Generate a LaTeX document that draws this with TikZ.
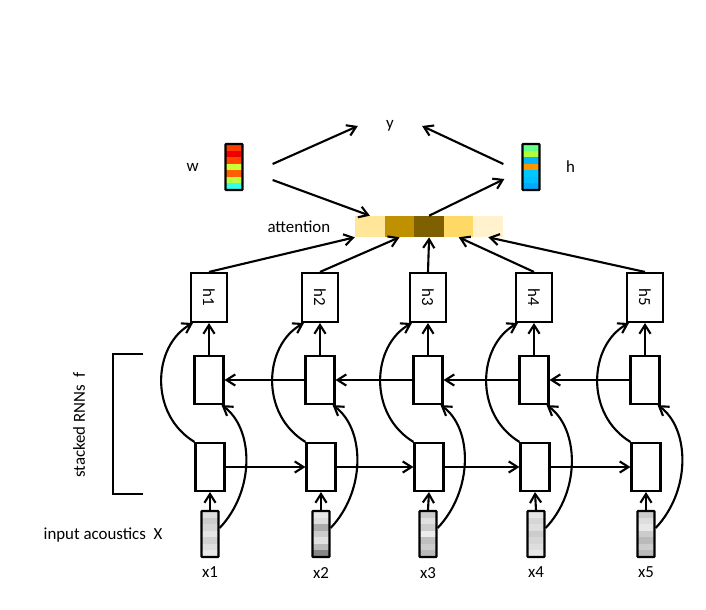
\documentclass[tikz,border=0pt]{standalone}
\usepackage{fontspec}
\setmainfont{Carlito}
\usepackage{graphicx}
\usetikzlibrary{arrows.meta, positioning, calc}
\definecolor{attA}{HTML}{FFE699}
\definecolor{attB}{HTML}{BF9000}
\definecolor{attC}{HTML}{7F6000}
\definecolor{attD}{HTML}{FFD966}
\definecolor{attE}{HTML}{FFF2CC}
\definecolor{wcA}{HTML}{FF3C00}
\definecolor{wcB}{HTML}{EE0000}
\definecolor{wcC}{HTML}{FF4500}
\definecolor{wcD}{HTML}{CCFF33}
\definecolor{wcE}{HTML}{FF6000}
\definecolor{wcF}{HTML}{BBFF44}
\definecolor{wcG}{HTML}{33FFEE}
\definecolor{hcA}{HTML}{66FF88}
\definecolor{hcB}{HTML}{B4FF3C}
\definecolor{hcC}{HTML}{00B4FF}
\definecolor{hcD}{HTML}{FF9600}
\definecolor{hcE}{HTML}{00C8FF}
\definecolor{hcF}{HTML}{00BEFF}
\definecolor{hcG}{HTML}{00AAFF}
\tikzset{
  cell/.style={rectangle, draw, line width=1.5pt, minimum width=0.725cm,
    minimum height=1.2cm, inner sep=0pt},
  hbox/.style={cell, minimum width=0.9cm, minimum height=1.225cm},
  vec/.style={rectangle, draw, line width=1.6pt, rounded corners=0.5pt,
    minimum width=0.425cm, minimum height=1.15cm, inner sep=0pt},
  att/.style={rectangle, inner sep=0pt, minimum width=0.74cm, minimum height=0.525cm},
  arrow/.style={-{Straight Barb[length=2.2mm,width=2.8mm]}, line width=1.5pt}
}
% striped vector: name, x centre, y top, list of fills
\newcommand{\stripevec}[4]{%
  \foreach \c [count=\k from 0] in {#4}
    \fill[\c] ({#2-8.5},{#3+\k*46/7}) rectangle ++(17,{46/7});
  \node[vec] (#1) at (#2,{#3+23}) {};
}

\begin{document}
\begin{tikzpicture}[x=0.025cm, y=-0.025cm, font=\fontsize{12}{14}\selectfont]
  \useasboundingbox (0,0) rectangle (706,610);

  % output, weights and summary vector
  \node[inner xsep=0.7cm] (yv) at (390,126) {y};
  \stripevec{wv}{234}{144}{wcA,wcB,wcC,wcD,wcE,wcF,wcG}
  \stripevec{hv}{531}{144}{hcA,hcB,hcC,hcD,hcE,hcF,hcG}
  \node[left=0.52cm of wv] (wlbl) {w};
  \node[right=0.51cm of hv] (hlbl) {h};

  % attention weights
  \foreach \c [count=\k] in {attA,attB,attC,attD,attE}
    \node[att, fill=\c] (att\k) at ({340.3+\k*29.6},226.5) {};
  \node[left=0.49cm of att1] (attlbl) {attention};

  \draw[arrow] ($(wv.east)+(29,-3)$) -- (yv.west);
  \draw[arrow] ($(wv.east)+(29,13)$) -- (att1.north);
  \draw[arrow] (att3.north) -- ($(hv.west)+(-17,12)$);
  \draw[arrow] ($(hv.west)+(-18,-3)$) -- (yv.east);

  % input acoustics
  \stripevec{x1}{210}{511}{black!12,black!20,black!16,black!10,black!18,black!13,black!9}
  \stripevec{x2}{321}{511}{black!9,black!13,black!33,black!20,black!12,black!27,black!47}
  \stripevec{x3}{428}{511}{black!20,black!12,black!20,black!7,black!25,black!20,black!27}
  \stripevec{x4}{536}{511}{black!10,black!16,black!13,black!20,black!16,black!13,black!9}
  \stripevec{x5}{646}{511}{black!20,black!13,black!9,black!20,black!27,black!20,black!27}

  % stacked RNN columns
  \foreach \i/\x in {1/209,2/320,3/428,4/534,5/645} {
    \node[hbox] (h\i) at (\x,297.5) {\rotatebox{-90}{h\i}};
    \node[cell] (bwd\i) at (\x,380) {};
    \node[cell] (fwd\i) at (\x+1,467) {};
    \node[below=1mm of x\i] (xl\i) {x\i};
    \draw[arrow] (x\i.north) -- (fwd\i.south);
    \draw[arrow] (bwd\i.north) -- (h\i.south);
    \draw[arrow] ($(x\i.east)+(0,-6)$) .. controls +(36,-38) and +(32,23)
      .. ($(bwd\i.south east)+(-3,0)$);
    \draw[arrow] (fwd\i.north west) .. controls +(-46,-28) and +(-40,22)
      .. ($(h\i.south west)+(3,0)$);
  }
  \foreach \i [evaluate=\i as \j using int(\i+1)] in {1,...,4} {
    \draw[arrow] (fwd\i.east) -- (fwd\j.west);
    \draw[arrow] (bwd\j.west) -- (bwd\i.east);
  }

  % h to attention
  \draw[arrow] (h1.north) -- (att1.south west);
  \foreach \i in {2,...,5}
    \draw[arrow] (h\i.north) -- (att\i.south);

  % side labels
  \draw[line width=1.2pt] (143,354) -- (113,354) -- (113,494) -- (143,494);
  \node[rotate=90] (stk) at (79,425) {stacked RNNs\ \ f};
  \node (inlbl) at (103,535) {input acoustics\ \ X};
\end{tikzpicture}
\end{document}
